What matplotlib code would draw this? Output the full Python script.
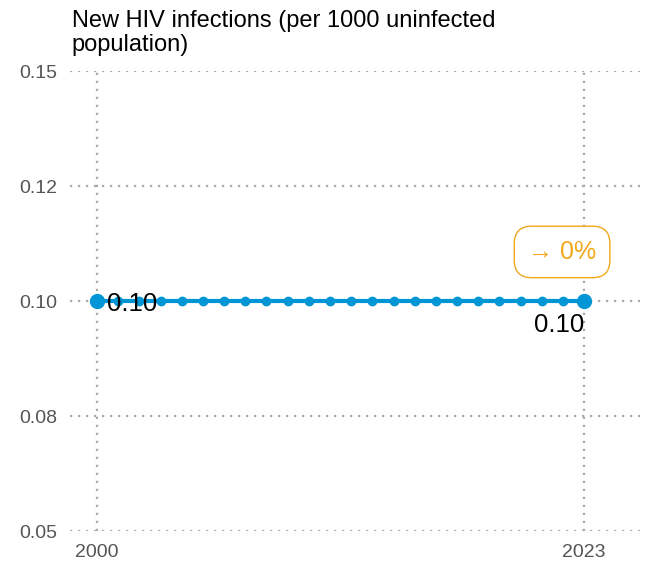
import numpy as np
import matplotlib.pyplot as plt

plt.rcParams['font.family'] = ['Liberation Sans', 'DejaVu Sans']

years = list(range(2000, 2024))
values = [0.10] * len(years)
yticks = [0.05, 0.075, 0.10, 0.125, 0.15]
ytick_labels = ['0.05', '0.08', '0.10', '0.12', '0.15']
change_label = '→ 0%'

blue = '#0096D6'
orange = '#F2A81D'
grid_col = '#AAAAAA'

fig = plt.figure(figsize=(6.48, 5.65), dpi=100)
ax = fig.add_axes([0.108, 0.060, 0.880, 0.814])

ax.plot(years, values, color=blue, lw=3, marker='o', ms=6, zorder=3)
ax.plot([years[0], years[-1]], [values[0], values[-1]], 'o', color=blue, ms=10, zorder=4)

ax.text(years[0] + 0.45, values[0], f'{values[0]:.2f}', fontsize=18.5, va='center_baseline',
        ha='left', zorder=5)
ax.text(years[-1], values[-1] - 0.0025, f'{values[-1]:.2f}', fontsize=18.5, va='top', ha='right', zorder=5)

ax.text(2021.96, 0.1107, change_label, fontsize=18, color=orange, ha='center', va='center',
        bbox=dict(boxstyle='round,pad=0.55,rounding_size=0.7', fc='white', ec=orange, lw=1))

ax.set_xlim(1998.72, 2025.65)
ax.set_ylim(0.05, 0.15)
ax.set_xticks([years[0], years[-1]])
ax.set_yticks(yticks)
ax.set_yticklabels(ytick_labels)
ax.tick_params(length=0, labelsize=14, labelcolor='#555555')
ax.tick_params(axis='x', pad=9)
ax.tick_params(axis='y', pad=9)
for s in ax.spines.values():
    s.set_visible(False)
ax.grid(True, color=grid_col, linestyle=(0, (1, 2.6)), lw=1.6)
ax.set_axisbelow(True)

fig.text(0.111, 0.982, 'New HIV infections (per 1000 uninfected\npopulation)', fontsize=17,
         ha='left', va='top', linespacing=1.12)

fig.savefig('out.png', dpi=100)
